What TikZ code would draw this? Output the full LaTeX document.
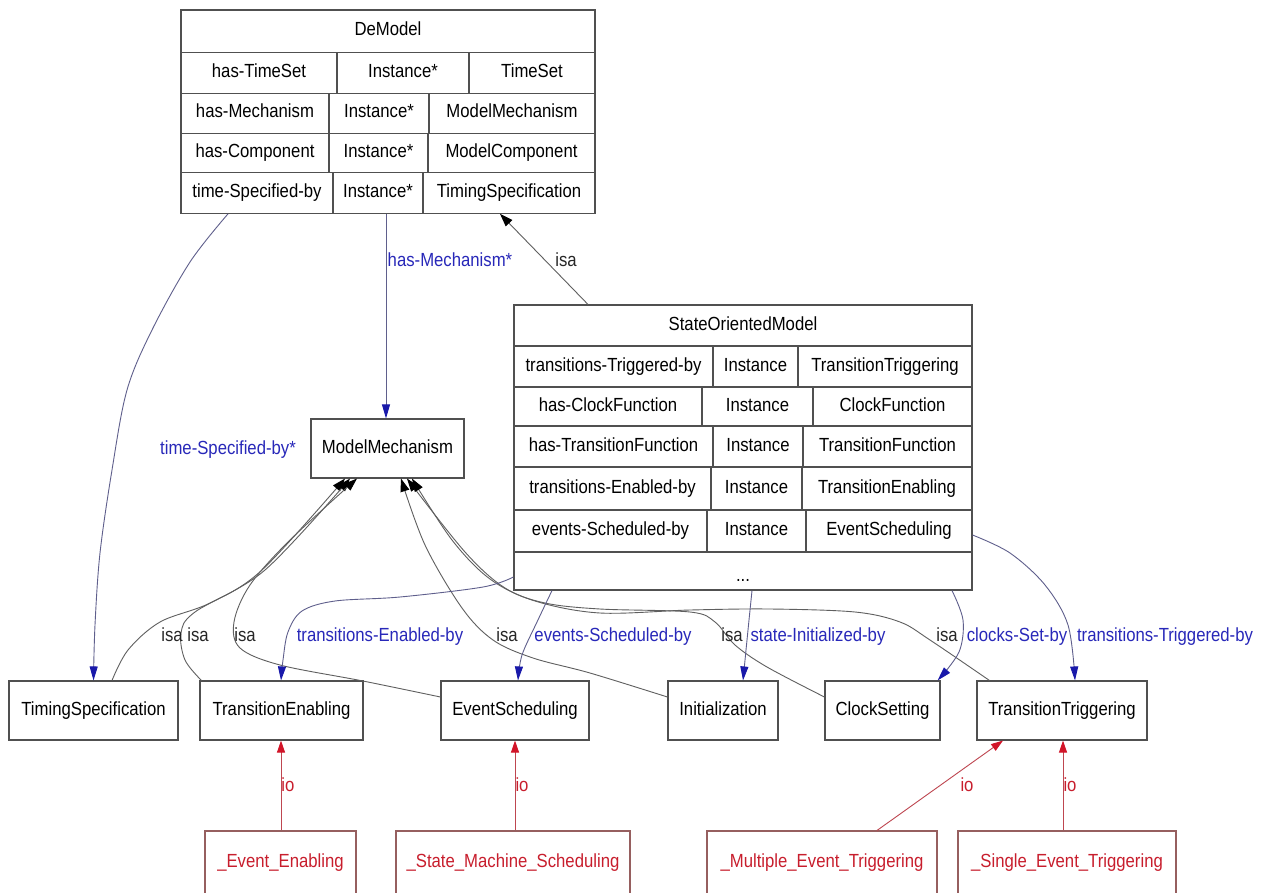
\documentclass[tikz,border=0pt]{standalone}
\usepackage{fontspec}
\setmainfont{Liberation Sans}[FakeStretch=0.88]
\usetikzlibrary{arrows.meta}

\definecolor{boxline}{RGB}{80,80,80}
\definecolor{isaline}{RGB}{95,95,95}
\definecolor{slotline}{RGB}{95,95,140}
\definecolor{slothead}{RGB}{25,25,170}
\definecolor{slottext}{RGB}{40,40,185}
\definecolor{ioline}{RGB}{190,70,80}
\definecolor{iohead}{RGB}{210,20,40}
\definecolor{iotext}{RGB}{200,30,45}
\definecolor{iobox}{RGB}{150,95,95}

\tikzset{
  frame/.style={draw=boxline, line width=1.1pt, inner sep=0pt},
  rule/.style={draw=boxline, line width=1.1pt},
  cls/.style={draw=boxline, line width=1.1pt, inner sep=0pt, minimum height=59pt,
              text height=13.6pt, text depth=4pt},
  inst/.style={draw=iobox, line width=1.1pt, inner sep=0pt, minimum height=64pt,
               text=iotext, text height=13.6pt, text depth=4pt},
  txt/.style={inner sep=0pt, text height=13.6pt, text depth=4pt},
  isa/.style={draw=isaline, line width=0.9pt, -{Triangle[length=13pt,width=9pt,color=black]}},
  slot/.style={draw=slotline, line width=0.9pt, -{Triangle[length=14pt,width=8pt,color=slothead]}},
  io/.style={draw=ioline, line width=0.9pt, -{Triangle[length=12pt,width=8pt,color=iohead]}},
  slotlbl/.style={txt, text=slottext},
  isalbl/.style={txt, text=black!85},
  iolbl/.style={txt, text=iotext},
}

\begin{document}
\begin{tikzpicture}[x=1pt, y=-1pt, font=\fontsize{19}{22}\selectfont]
\useasboundingbox[fill=white] (0,0) rectangle (1274,892);

% ---------- DeModel frame ----------
\node[frame, minimum width=414pt, minimum height=203.3pt] (demodel) at (388,111.65) {};
\foreach \y in {52.7,93.3,133.3,172.7} \draw[rule] (181,\y) -- (595,\y);
\draw[rule] (337,52.7) -- (337,93.3);   \draw[rule] (469,52.7) -- (469,93.3);
\draw[rule] (329,93.3) -- (329,133.3);  \draw[rule] (429,93.3) -- (429,133.3);
\draw[rule] (329,133.3) -- (329,172.7); \draw[rule] (428,133.3) -- (428,172.7);
\draw[rule] (333,172.7) -- (333,213.3); \draw[rule] (423,172.7) -- (423,213.3);
\node[txt] (dm-title) at (388,31) {DeModel};
\node[txt] (dm-a1) at (259,73) {has-TimeSet};
\node[txt] (dm-b1) at (403,73) {Instance*};
\node[txt] (dm-c1) at (532,73) {TimeSet};
\node[txt] (dm-a2) at (255,113) {has-Mechanism};
\node[txt] (dm-b2) at (379,113) {Instance*};
\node[txt] (dm-c2) at (512,113) {ModelMechanism};
\node[txt] (dm-a3) at (255,153) {has-Component};
\node[txt] (dm-b3) at (378.5,153) {Instance*};
\node[txt] (dm-c3) at (511.5,153) {ModelComponent};
\node[txt] (dm-a4) at (257,193) {time-Specified-by};
\node[txt] (dm-b4) at (378,193) {Instance*};
\node[txt] (dm-c4) at (509,193) {TimingSpecification};

% ---------- StateOrientedModel frame ----------
\node[frame, minimum width=458pt, minimum height=285pt] (som) at (743,447.5) {};
\foreach \y in {346,387,426,467,510,552} \draw[rule] (514,\y) -- (972,\y);
\draw[rule] (713,346) -- (713,387); \draw[rule] (798,346) -- (798,387);
\draw[rule] (702,387) -- (702,426); \draw[rule] (813,387) -- (813,426);
\draw[rule] (713,426) -- (713,467); \draw[rule] (803,426) -- (803,467);
\draw[rule] (711,467) -- (711,510); \draw[rule] (802,467) -- (802,510);
\draw[rule] (707,510) -- (707,552); \draw[rule] (806,510) -- (806,552);
\node[txt] (som-title) at (743,325.5) {StateOrientedModel};
\node[txt] (som-a1) at (613.5,366.5) {transitions-Triggered-by};
\node[txt] (som-b1) at (755.5,366.5) {Instance};
\node[txt] (som-c1) at (885,366.5) {TransitionTriggering};
\node[txt] (som-a2) at (608,406.5) {has-ClockFunction};
\node[txt] (som-b2) at (757.5,406.5) {Instance};
\node[txt] (som-c2) at (892.5,406.5) {ClockFunction};
\node[txt] (som-a3) at (613.5,446.5) {has-TransitionFunction};
\node[txt] (som-b3) at (758,446.5) {Instance};
\node[txt] (som-c3) at (887.5,446.5) {TransitionFunction};
\node[txt] (som-a4) at (612.5,488.5) {transitions-Enabled-by};
\node[txt] (som-b4) at (756.5,488.5) {Instance};
\node[txt] (som-c4) at (887,488.5) {TransitionEnabling};
\node[txt] (som-a5) at (610.5,531) {events-Scheduled-by};
\node[txt] (som-b5) at (756.5,531) {Instance};
\node[txt] (som-c5) at (889,531) {EventScheduling};
\node[inner sep=0pt, anchor=base] (som-more) at (743,581) {...};

% ---------- classes ----------
\node[cls, minimum width=153pt] (mm) at (387.5,448.5) {ModelMechanism};
\node[cls, minimum width=169pt] (ts) at (93.5,710.5) {TimingSpecification};
\node[cls, minimum width=163pt] (te) at (281.5,710.5) {TransitionEnabling};
\node[cls, minimum width=148pt] (es) at (515,710.5) {EventScheduling};
\node[cls, minimum width=110pt] (init) at (723,710.5) {Initialization};
\node[cls, minimum width=115pt] (cs) at (882.5,710.5) {ClockSetting};
\node[cls, minimum width=170pt] (tt) at (1062,710.5) {TransitionTriggering};

% ---------- instances ----------
\node[inst, minimum width=151pt] (ee) at (280.5,863) {\_Event\_Enabling};
\node[inst, minimum width=234pt] (sms) at (513,863) {\_State\_Machine\_Scheduling};
\node[inst, minimum width=230pt] (met) at (822,863) {\_Multiple\_Event\_Triggering};
\node[inst, minimum width=218pt] (set) at (1067,863) {\_Single\_Event\_Triggering};

% ---------- isa links ----------
\draw[isa] ([xshift=-155pt]som.north) -- ([xshift=112pt]demodel.south);
\draw[isa] plot[smooth, tension=0.55] coordinates {([xshift=18.5pt]ts.north) (128,650) (160,622) (210,603) (262,570) ([xshift=-42.5pt]mm.south)};
\draw[isa] plot[smooth, tension=0.55] coordinates {([xshift=2pt]te.north west) (185,660) (181,633) (195,612) (265,570) ([xshift=-37.5pt]mm.south)};
\draw[isa] plot[smooth, tension=0.55] coordinates {([yshift=13.5pt]es.west) (363,681) (280,665) (240,648) (234,622) (250,585) (290,540) ([xshift=-30.5pt]mm.south)};
\draw[isa] plot[smooth, tension=0.55] coordinates {([yshift=13.5pt]init.west) (590,673) (533,658) (493,640) (462,608) (425,545) ([xshift=13.5pt]mm.south)};
\draw[isa] plot[smooth, tension=0.55] coordinates {([yshift=13.5pt]cs.west) (767,667) (735,645) (715,622) (690,612) (600,609) (545,603) (505,588) (465,552) ([xshift=19.5pt]mm.south)};
\draw[isa] plot[smooth, tension=0.55] coordinates {([xshift=13pt]tt.north west) (930,640) (900,622) (855,612) (770,609) (690,610) (600,613) (535,601) (490,579) (452,540) ([xshift=24.5pt]mm.south)};

% ---------- slot links ----------
\draw[slot] ([xshift=-2pt]demodel.south) -- ([xshift=-1.5pt]mm.north);
\draw[slot] plot[smooth, tension=0.55] coordinates {([xshift=-160pt]demodel.south) (190,262) (152,330) (127,390) (112,470) (100,553) (95,625) (ts.north)};
\draw[slot] plot[smooth, tension=0.55] coordinates {([yshift=-129.5pt]som.west) (483,587) (400,597) (335,601) (302,611) (288,632) (283,660) ([xshift=-0.5pt]te.north)};
\draw[slot] plot[smooth, tension=0.55] coordinates {([xshift=-191pt]som.south) (537,622) (522,655) ([xshift=3pt]es.north)};
\draw[slot] plot[smooth, tension=0.55] coordinates {([xshift=9pt]som.south) (748,630) ([xshift=20pt]init.north)};
\draw[slot] plot[smooth, tension=0.55] coordinates {([xshift=209pt]som.south) (963,620) (959,652) ([xshift=-3pt]cs.north east)};
\draw[slot] plot[smooth, tension=0.55] coordinates {([yshift=-87.5pt]som.east) (1010,553) (1045,585) (1068,625) ([xshift=13pt]tt.north)};

% ---------- instance-of links ----------
\draw[io] ([xshift=0.5pt]ee.north) -- ([xshift=-0.5pt]te.south);
\draw[io] ([xshift=2pt]sms.north) -- (es.south);
\draw[io] ([xshift=55pt]met.north) -- ([xshift=-59pt]tt.south);
\draw[io] ([xshift=-4pt]set.north) -- ([xshift=1pt]tt.south);

% ---------- link labels ----------
\node[slotlbl] (l-hasmech) at (450,262) {has-Mechanism*};
\node[isalbl] (l-isa0) at (566,262) {isa};
\node[slotlbl] (l-timespec) at (228,450) {time-Specified-by*};
\node[isalbl] (l-isa1) at (172,637) {isa};
\node[isalbl] (l-isa2) at (198,637) {isa};
\node[isalbl] (l-isa3) at (245,637) {isa};
\node[slotlbl] (l-tenab) at (380,637) {transitions-Enabled-by};
\node[isalbl] (l-isa4) at (507,637) {isa};
\node[slotlbl] (l-esched) at (613,637) {events-Scheduled-by};
\node[isalbl] (l-isa5) at (732,637) {isa};
\node[slotlbl] (l-sinit) at (818,637) {state-Initialized-by};
\node[isalbl] (l-isa6) at (947,637) {isa};
\node[slotlbl] (l-clocks) at (1017,637) {clocks-Set-by};
\node[slotlbl] (l-ttrig) at (1165,637) {transitions-Triggered-by};
\node[iolbl] (l-io1) at (288,787) {io};
\node[iolbl] (l-io2) at (522,787) {io};
\node[iolbl] (l-io3) at (967,787) {io};
\node[iolbl] (l-io4) at (1070,787) {io};
\end{tikzpicture}
\end{document}
